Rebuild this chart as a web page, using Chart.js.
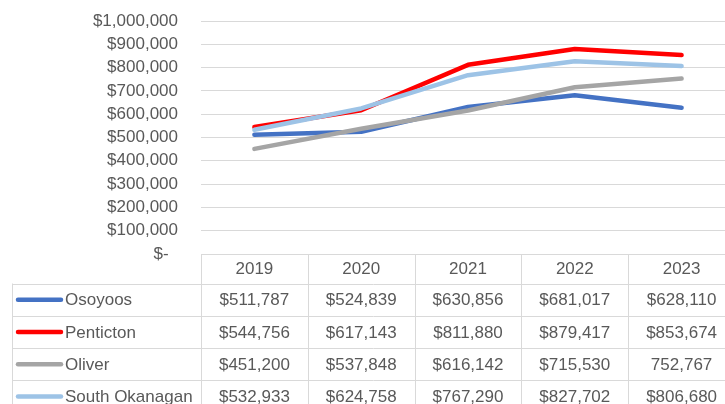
<!DOCTYPE html>
<html>
<head>
<meta charset="utf-8">
<script src="https://cdn.jsdelivr.net/npm/chart.js@4.4.1/dist/chart.umd.min.js"></script>
<style>
  html, body { margin: 0; padding: 0; background: #fff; overflow: hidden; }
  #wrap { width: 735px; height: 404px; }
</style>
</head>
<body>
<div id="wrap"><canvas id="priceChart" width="735" height="404"></canvas></div>
<script>
const years = ['2019', '2020', '2021', '2022', '2023'];
const seriesNames = ['Osoyoos', 'Penticton', 'Oliver', 'South Okanagan'];
const osoyoos = [511787, 524839, 630856, 681017, 628110];
const penticton = [544756, 617143, 811880, 879417, 853674];
const oliver = [451200, 537848, 616142, 715530, 752767];
const southOkanagan = [532933, 624758, 767290, 827702, 806680];
const seriesColors = ['#4472C4', '#FF0000', '#A5A5A5', '#9DC3E6'];
const yTicks = [0, 100000, 200000, 300000, 400000, 500000, 600000, 700000, 800000, 900000, 1000000];
// cells that show no "$" in the source table: [series, year]
const plainCells = [[2, 4]];

const textColor = '#595959';
const lineColor = '#D9D9D9';
const font = '17px "Liberation Sans", Arial, sans-serif';

function money(v, withSign) {
    if (v === 0) return '$-  ';
    return (withSign ? '$' : '') + v.toLocaleString('en-US');
}

const allSeries = [osoyoos, penticton, oliver, southOkanagan];

// data table under the plot, aligned to the x scale
const dataTable = {
    id: 'dataTable',
    afterDraw(chart) {
        const ctx = chart.ctx;
        const x = chart.scales.x;
        const area = chart.chartArea;
        const top = area.bottom;
        const headH = 29.5;
        const rowH = 32.3;
        const legendLeft = 12;
        const step = x.getPixelForValue(1) - x.getPixelForValue(0);
        const bottom = top + headH + rowH * allSeries.length;

        ctx.save();
        ctx.strokeStyle = lineColor;
        ctx.lineWidth = 1;
        ctx.beginPath();
        // horizontal lines
        ctx.moveTo(area.left, top + 0.5);
        ctx.lineTo(chart.width, top + 0.5);
        for (let r = 0; r <= allSeries.length; r++) {
            const y = Math.round(top + headH + r * rowH) + 0.5;
            ctx.moveTo(legendLeft, y);
            ctx.lineTo(chart.width, y);
        }
        // vertical lines
        ctx.moveTo(legendLeft + 0.5, top + headH);
        ctx.lineTo(legendLeft + 0.5, bottom);
        for (let i = 0; i <= years.length; i++) {
            const xx = Math.round(x.getPixelForValue(i) - step / 2) + 0.5;
            ctx.moveTo(xx, top);
            ctx.lineTo(xx, bottom);
        }
        ctx.stroke();

        ctx.font = font;
        ctx.fillStyle = textColor;
        ctx.textBaseline = 'middle';
        ctx.textAlign = 'center';
        years.forEach((yr, i) => {
            ctx.fillText(yr, x.getPixelForValue(i), top + headH / 2 + 1);
        });

        allSeries.forEach((vals, s) => {
            const cy = top + headH + rowH * s + rowH / 2 + 1;
            // legend key
            ctx.strokeStyle = seriesColors[s];
            ctx.lineWidth = 4.5;
            ctx.lineCap = 'round';
            ctx.beginPath();
            ctx.moveTo(18, cy - 1);
            ctx.lineTo(61, cy - 1);
            ctx.stroke();
            ctx.textAlign = 'left';
            ctx.fillText(seriesNames[s], 65, cy);
            ctx.textAlign = 'center';
            vals.forEach((v, i) => {
                const plain = plainCells.some(c => c[0] === s && c[1] === i);
                ctx.fillText(money(v, !plain), x.getPixelForValue(i), cy);
            });
        });
        ctx.restore();
    }
};

const ctx = document.getElementById('priceChart').getContext('2d');
new Chart(ctx, {
    type: 'line',
    data: {
        labels: years,
        datasets: allSeries.map((vals, s) => ({
            label: seriesNames[s],
            data: vals,
            borderColor: seriesColors[s],
            backgroundColor: seriesColors[s],
            borderWidth: 4.5,
            borderCapStyle: 'round',
            borderJoinStyle: 'round',
            pointRadius: 0,
            tension: 0,
            order: allSeries.length - s
        }))
    },
    options: {
        responsive: false,
        animation: false,
        devicePixelRatio: 1,
        layout: { padding: { top: 21, bottom: 150, left: 0, right: 0 } },
        plugins: {
            legend: { display: false },
            tooltip: { enabled: false }
        },
        scales: {
            x: {
                display: false,
                offset: true
            },
            y: {
                min: 0,
                max: 1000000,
                afterFit(scale) {
                    scale.width = 201;
                    scale.paddingTop = 10;
                    scale.paddingBottom = 10;
                },
                afterBuildTicks(scale) { scale.ticks = yTicks.map(v => ({ value: v })); },
                border: { display: false },
                grid: { color: lineColor, lineWidth: 1, drawTicks: false },
                ticks: {
                    autoSkip: false,
                    padding: 23,
                    color: textColor,
                    font: { family: '"Liberation Sans", Arial, sans-serif', size: 17 },
                    callback: v => money(v, true)
                }
            }
        }
    },
    plugins: [dataTable]
});
</script>
</body>
</html>
